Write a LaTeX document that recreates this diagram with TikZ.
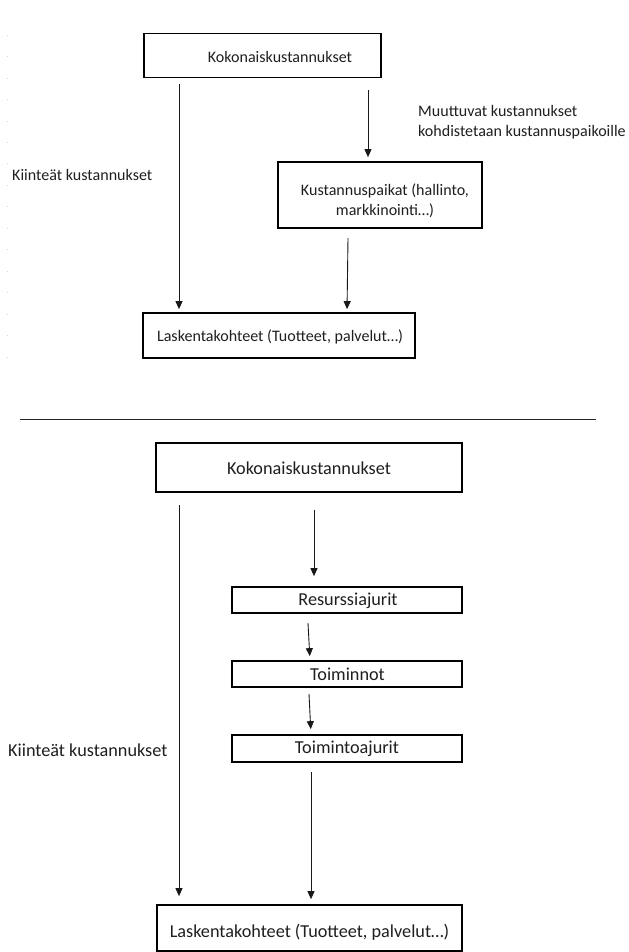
\documentclass[tikz,border=0pt]{standalone}
\usepackage{fontspec}
\setmainfont{Carlito}
\usetikzlibrary{arrows.meta}
\begin{document}
\begin{tikzpicture}[x=1bp,y=-1bp,
  box/.style={draw=black, line width=1.7bp, inner sep=0pt},
  lbl/.style={inner sep=0pt, text=black!88},
  smalltxt/.style={font=\fontsize{16.1}{20}\selectfont},
  bigtxt/.style={font=\fontsize{18.3}{22}\selectfont},
  flow/.style={line width=0.9bp, draw=black!90, -{Triangle[width=7bp,length=8bp]}},
  tick/.style={draw=black!15, line width=0.7bp}]
\path[use as bounding box, fill=white] (0,0) rectangle (629,952);

% faint margin ticks
\foreach \i in {0,...,15}
  \draw[tick] (6.5,{35+21.47*\i}) -- (8,{35+21.47*\i});

% ---------- upper chart: cost centres ----------
\node[box, minimum width=237bp, minimum height=44bp] (tk) at (262.5,55.5) {};
\node[lbl, smalltxt] (tkt) at (280,57) {Kokonaiskustannukset};

\node[box, minimum width=204bp, minimum height=66bp] (kp) at (380,195) {};
\node[lbl, smalltxt, align=center] (kpt) at (385,201) {Kustannuspaikat (hallinto,\\markkinointi…)};

\node[box, minimum width=272bp, minimum height=45bp] (lk1) at (279,335.5) {};
\node[lbl, smalltxt] (lk1t) at (280,337) {Laskentakohteet (Tuotteet, palvelut…)};

\node[lbl, smalltxt, anchor=west, align=left] (mk) at (418,122)
  {Muuttuvat kustannukset\\kohdistetaan kustannuspaikoille};
\node[lbl, smalltxt, anchor=west] (ki1) at (12,175) {Kiinteät kustannukset};

\coordinate (a1) at (179,84);
\coordinate (a2) at (368,90);
\coordinate (a3) at (348,238);
\draw[flow, shorten >=3bp] (a1) -- (a1 |- lk1.north);
\draw[flow, shorten >=4bp] (a2) -- (a2 |- kp.north);
\draw[flow, shorten >=3bp] (a3) -- (347,0 |- lk1.north);

% separator
\draw[line width=1.5bp, black!85] (20,419.5) -- (596,419.5);

% ---------- lower chart: activity based costing ----------
\node[box, minimum width=306bp, minimum height=49bp] (tk2) at (309,467.5) {};
\node[lbl, bigtxt] (tk2t) at (309,468) {Kokonaiskustannukset};

\node[box, minimum width=230bp, minimum height=26bp] (rj) at (347,600) {};
\node[lbl, bigtxt] (rjt) at (348,600.5) {Resurssiajurit};

\node[box, minimum width=230bp, minimum height=26bp] (to) at (347,674) {};
\node[lbl, bigtxt] (tot) at (347.5,674.5) {Toiminnot};

\node[box, minimum width=230bp, minimum height=27bp] (ta) at (347,748.5) {};
\node[lbl, bigtxt] (tat) at (347,748.5) {Toimintoajurit};

\node[box, minimum width=305bp, minimum height=46bp] (lk2) at (309.5,928) {};
\node[lbl, bigtxt] (lk2t) at (309.5,932) {Laskentakohteet (Tuotteet, palvelut…)};

\node[lbl, bigtxt, anchor=west] (ki2) at (8,750) {Kiinteät kustannukset};

\coordinate (b1) at (179,505);
\coordinate (b2) at (314,510);
\coordinate (b3) at (308,623);
\coordinate (b4) at (309,694);
\coordinate (b5) at (311,772);
\draw[flow, shorten >=8bp] (b1) -- (b1 |- lk2.north);
\draw[flow, shorten >=10bp] (b2) -- (b2 |- rj.north);
\draw[flow, shorten >=4bp] (b3) -- (310,0 |- to.north);
\draw[flow, shorten >=5bp] (b4) -- (311,0 |- ta.north);
\draw[flow, shorten >=5bp] (b5) -- (b5 |- lk2.north);
\end{tikzpicture}
\end{document}
